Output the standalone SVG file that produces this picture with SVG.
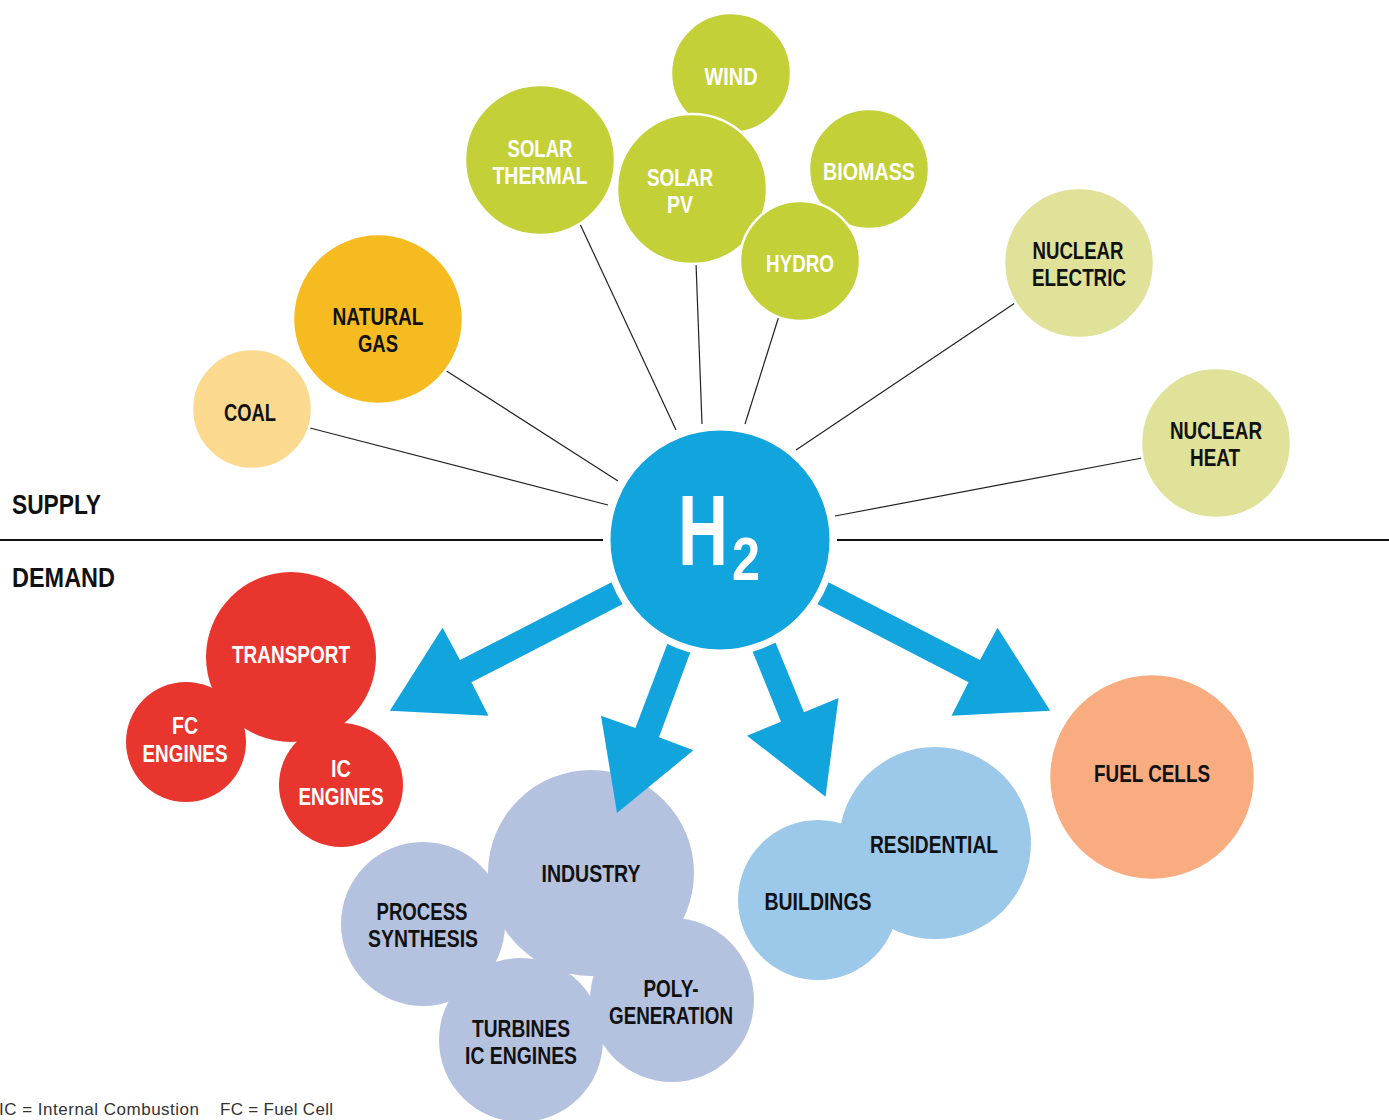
<svg xmlns="http://www.w3.org/2000/svg" width="1389" height="1120" viewBox="0 0 1389 1120">
<style>
.c{stroke:#fff;stroke-width:2.5}
.lime{fill:#C3D037}
.red{fill:#E8352D}
.ind{fill:#B4C2E0}
.bld{fill:#9CC8EA}
.nuc{fill:#E0E299}
text{font-family:"Liberation Sans",Arial,sans-serif;font-weight:bold;font-size:24px;text-anchor:middle}
.w{fill:#fff}
.k{fill:#111}
.ln{stroke:#222;stroke-width:1.2;fill:none}
.arr{fill:#12A4DC}
.side{font-size:28px;text-anchor:start;fill:#111}
.foot{font-weight:normal;font-size:17px;text-anchor:start;fill:#333}
</style>
<rect width="1389" height="1120" fill="#fff"/>
<g id="connectors">
<line class="ln" x1="310" y1="428" x2="608" y2="505"/>
<line class="ln" x1="445" y1="370" x2="618" y2="481"/>
<line class="ln" x1="580" y1="224" x2="676" y2="430"/>
<line class="ln" x1="696" y1="263" x2="702" y2="424"/>
<line class="ln" x1="779" y1="316" x2="745" y2="424"/>
<line class="ln" x1="1015" y1="303" x2="796" y2="450"/>
<line class="ln" x1="1142" y1="458" x2="835" y2="516"/>
<line x1="0" y1="540" x2="603" y2="540" stroke="#111" stroke-width="2"/>
<line x1="837" y1="540" x2="1389" y2="540" stroke="#111" stroke-width="2"/>
</g>
<g id="coal"><circle class="c" cx="252" cy="409" r="60" fill="#FBD98F"/><text class="k" x="250" y="421" textLength="52" lengthAdjust="spacingAndGlyphs">COAL</text></g>
<g id="natural-gas"><circle class="c" cx="378" cy="319" r="85" fill="#F6BB21"/><text class="k" x="378" y="325" textLength="91" lengthAdjust="spacingAndGlyphs">NATURAL</text><text class="k" x="378" y="352" textLength="40" lengthAdjust="spacingAndGlyphs">GAS</text></g>
<g id="solar-thermal"><circle class="c lime" cx="540" cy="160" r="75"/><text class="w" x="540" y="157" textLength="65" lengthAdjust="spacingAndGlyphs">SOLAR</text><text class="w" x="540" y="184" textLength="95" lengthAdjust="spacingAndGlyphs">THERMAL</text></g>
<g id="wind"><circle class="c lime" cx="731" cy="73" r="60"/><text class="w" x="731" y="85" textLength="53" lengthAdjust="spacingAndGlyphs">WIND</text></g>
<g id="solar-pv"><circle class="c lime" cx="692" cy="189" r="75"/><text class="w" x="680" y="186" textLength="66" lengthAdjust="spacingAndGlyphs">SOLAR</text><text class="w" x="680" y="213" textLength="26" lengthAdjust="spacingAndGlyphs">PV</text></g>
<g id="biomass"><circle class="c lime" cx="869" cy="169" r="60"/><text class="w" x="869" y="180" textLength="92" lengthAdjust="spacingAndGlyphs">BIOMASS</text></g>
<g id="hydro"><circle class="c lime" cx="800" cy="261" r="60"/><text class="w" x="800" y="272" textLength="68" lengthAdjust="spacingAndGlyphs">HYDRO</text></g>
<g id="nuclear-electric"><circle class="c nuc" cx="1079" cy="263" r="75"/><text class="k" x="1078" y="259" textLength="91" lengthAdjust="spacingAndGlyphs">NUCLEAR</text><text class="k" x="1079" y="286" textLength="94" lengthAdjust="spacingAndGlyphs">ELECTRIC</text></g>
<g id="nuclear-heat"><circle class="c nuc" cx="1216" cy="443" r="75"/><text class="k" x="1216" y="439" textLength="92" lengthAdjust="spacingAndGlyphs">NUCLEAR</text><text class="k" x="1215" y="466" textLength="50" lengthAdjust="spacingAndGlyphs">HEAT</text></g>
<g id="transport-cluster">
<circle class="c red" cx="291" cy="657" r="85"/>
<circle class="c red" cx="186" cy="742" r="60"/>
<circle class="c red" cx="341" cy="785" r="62"/>
<circle class="red" cx="291" cy="657" r="85"/>
<circle class="red" cx="186" cy="742" r="60"/>
<circle class="red" cx="341" cy="785" r="62"/>
</g>
<g id="transport"><text class="w" x="291" y="663" textLength="118" lengthAdjust="spacingAndGlyphs">TRANSPORT</text></g>
<g id="fc-engines"><text class="w" x="185" y="734" textLength="26" lengthAdjust="spacingAndGlyphs">FC</text><text class="w" x="185" y="762" textLength="85" lengthAdjust="spacingAndGlyphs">ENGINES</text></g>
<g id="ic-engines"><text class="w" x="341" y="777" textLength="20" lengthAdjust="spacingAndGlyphs">IC</text><text class="w" x="341" y="805" textLength="85" lengthAdjust="spacingAndGlyphs">ENGINES</text></g>
<g id="industry-cluster">
<circle class="c ind" cx="423" cy="924" r="82"/>
<circle class="c ind" cx="591" cy="873" r="103"/>
<circle class="c ind" cx="521" cy="1040" r="82"/>
<circle class="c ind" cx="672" cy="1000" r="82"/>
<circle class="ind" cx="423" cy="924" r="82"/>
<circle class="ind" cx="591" cy="873" r="103"/>
<circle class="ind" cx="521" cy="1040" r="82"/>
<circle class="ind" cx="672" cy="1000" r="82"/>
</g>
<g id="buildings-cluster">
<circle class="c bld" cx="935" cy="843" r="96"/>
<circle class="c bld" cx="818" cy="900" r="80"/>
<circle class="bld" cx="935" cy="843" r="96"/>
<circle class="bld" cx="818" cy="900" r="80"/>
</g>
<g id="fuel-cells"><circle class="c" cx="1152" cy="777" r="103" fill="#F8AC80"/><text class="k" x="1152" y="782" textLength="116" lengthAdjust="spacingAndGlyphs">FUEL CELLS</text></g>
<g id="demand-arrows">
<polygon class="arr" points="628.6,573.6 460,660 442.5,627.7 389.8,710.7 488.5,715.7 471.5,682.3 639.8,595.2"/>
<polygon class="arr" points="674.1,626 635.4,728 601,715.7 617,813 693.4,750.3 659,737.3 696.9,634.6"/>
<polygon class="arr" points="745.3,633.5 781,721.7 747,735.7 825.5,796.7 838.5,698 804,712.3 768,624.2"/>
<polygon class="arr" points="811.4,573.6 980,660 997.5,627.7 1050.2,710.7 951.5,715.7 968.5,682.3 800.2,595.2"/>
</g>
<g id="industry"><text class="k" x="591" y="882" textLength="99" lengthAdjust="spacingAndGlyphs">INDUSTRY</text></g>
<g id="process-synthesis"><text class="k" x="422" y="920" textLength="91" lengthAdjust="spacingAndGlyphs">PROCESS</text><text class="k" x="423" y="947" textLength="110" lengthAdjust="spacingAndGlyphs">SYNTHESIS</text></g>
<g id="turbines-ic-engines"><text class="k" x="521" y="1037" textLength="98" lengthAdjust="spacingAndGlyphs">TURBINES</text><text class="k" x="521" y="1064" textLength="112" lengthAdjust="spacingAndGlyphs">IC ENGINES</text></g>
<g id="poly-generation"><text class="k" x="671" y="997" textLength="55" lengthAdjust="spacingAndGlyphs">POLY-</text><text class="k" x="671" y="1024" textLength="124" lengthAdjust="spacingAndGlyphs">GENERATION</text></g>
<g id="residential"><text class="k" x="934" y="853" textLength="128" lengthAdjust="spacingAndGlyphs">RESIDENTIAL</text></g>
<g id="buildings"><text class="k" x="818" y="910" textLength="107" lengthAdjust="spacingAndGlyphs">BUILDINGS</text></g>
<g id="h2">
<circle cx="720" cy="540" r="113" fill="#12A4DC" stroke="#fff" stroke-width="7"/>
<text class="w" x="678" y="565" style="font-size:100px;text-anchor:start"><tspan textLength="50" lengthAdjust="spacingAndGlyphs">H</tspan><tspan x="732" y="580" style="font-size:61px" textLength="28" lengthAdjust="spacingAndGlyphs">2</tspan></text>
</g>
<text class="side" x="12" y="514" textLength="89" lengthAdjust="spacingAndGlyphs">SUPPLY</text>
<text class="side" x="12" y="587" textLength="103" lengthAdjust="spacingAndGlyphs">DEMAND</text>
<text class="foot" x="-1" y="1115" textLength="200" lengthAdjust="spacing">IC = Internal Combustion</text>
<text class="foot" x="220" y="1115" textLength="113" lengthAdjust="spacing">FC = Fuel Cell</text>
</svg>
